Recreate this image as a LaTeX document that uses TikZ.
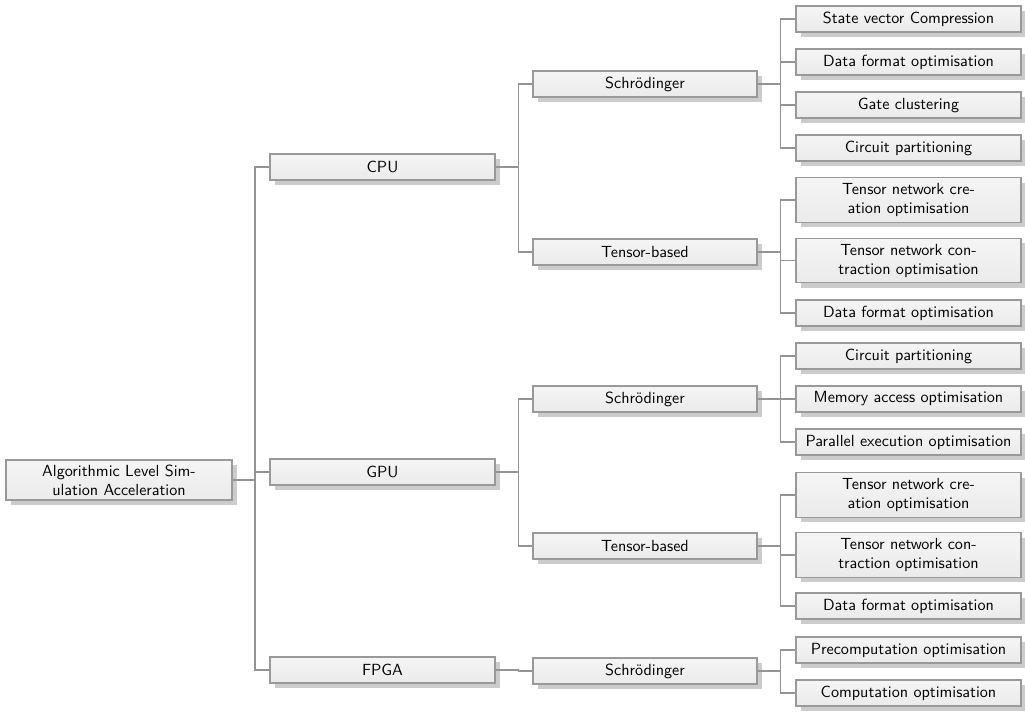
\documentclass[tikz,border=0pt]{standalone}
\usetikzlibrary{shadows}
\begin{document}
\begin{tikzpicture}[x=0.6204pt,y=-0.6204pt,
  box/.style={draw=black!40, line width=0.75pt, top color=black!4, bottom color=black!8,
    minimum height=16.1pt, inner sep=0pt, align=center,
    font=\sffamily\fontsize{10}{11.8}\selectfont,
    drop shadow={shadow xshift=3pt, shadow yshift=-3pt, fill=black!20, opacity=1}},
  l1/.style={box, minimum width=139.6pt},
  l2/.style={box, minimum width=139pt},
  l3/.style={box, minimum width=139.6pt},
  tall/.style={minimum height=27.5pt},
  conn/.style={draw=black!42, line width=0.75pt}]
\useasboundingbox (0,0) rectangle (1025,712);
% root
\node[box, minimum width=140.2pt, minimum height=24.8pt] (root) at (119,480) {Algorithmic Level Sim-\\ulation Acceleration};
% level 1
\node[l1] (cpu) at (382.5,167) {CPU};
\node[l1] (gpu) at (382.5,472) {GPU};
\node[l1] (fpga) at (382.5,670) {FPGA};
% level 2
\node[l2] (cs) at (645,84) {Schrödinger};
\node[l2] (ct) at (645,252) {Tensor-based};
\node[l2] (gs) at (645,399) {Schrödinger};
\node[l2] (gt) at (645,546) {Tensor-based};
\node[l2] (fs) at (645,671) {Schrödinger};
% level 3 (CPU)
\node[l3] (cs1) at (908.5,19) {State vector Compression};
\node[l3] (cs2) at (908.5,62) {Data format optimisation};
\node[l3] (cs3) at (908.5,105) {Gate clustering};
\node[l3] (cs4) at (908.5,148) {Circuit partitioning};
\node[l3, tall] (ct1) at (908.5,200) {Tensor network cre-\\ation optimisation};
\node[l3, tall] (ct2) at (908.5,260.5) {Tensor network con-\\traction optimisation};
\node[l3] (ct3) at (908.5,313) {Data format optimisation};
% level 3 (GPU)
\node[l3] (gs1) at (908.5,356) {Circuit partitioning};
\node[l3] (gs2) at (908.5,399) {Memory access optimisation};
\node[l3] (gs3) at (908.5,442) {Parallel execution optimisation};
\node[l3, tall] (gt1) at (908.5,495) {Tensor network cre-\\ation optimisation};
\node[l3, tall] (gt2) at (908.5,555) {Tensor network con-\\traction optimisation};
\node[l3] (gt3) at (908.5,606) {Data format optimisation};
% level 3 (FPGA)
\node[l3] (fs1) at (908.5,650) {Precomputation optimisation};
\node[l3] (fs2) at (908.5,693) {Computation optimisation};
% connectors
\foreach \p/\c in {root/cpu,root/gpu,root/fpga,cpu/cs,cpu/ct,gpu/gs,gpu/gt,fpga/fs,
  cs/cs1,cs/cs2,cs/cs3,cs/cs4,ct/ct1,ct/ct2,ct/ct3,gs/gs1,gs/gs2,gs/gs3,
  gt/gt1,gt/gt2,gt/gt3,fs/fs1,fs/fs2}
  \draw[conn] (\p.east) -- ++(22.5,0) |- (\c.west);
\end{tikzpicture}
\end{document}
